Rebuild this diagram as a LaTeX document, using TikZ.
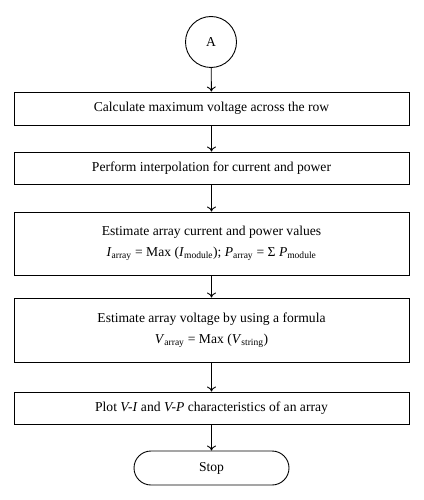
\documentclass[tikz,border=0pt]{standalone}
\usepackage{amsmath}
\usepackage{fontspec}
\setmainfont{Liberation Serif}
\usetikzlibrary{arrows.meta,shapes.misc}
\tikzset{
  txt/.style={font=\fontsize{13.6}{16}\selectfont},
  box/.style={draw, line width=0.9pt, minimum width=395pt, inner sep=0pt, align=center, txt},
  conn/.style={draw, line width=0.9pt, -{To[length=5pt,width=9pt]}},
}
\newcommand{\vsub}[2]{\textit{#1}\ensuremath{_{\text{#2}}}}
\begin{document}
\begin{tikzpicture}[x=1pt,y=-1pt]
\useasboundingbox (0,0) rectangle (423,500);
\node[draw, circle, line width=0.9pt, minimum size=51pt, inner sep=0pt, txt] (a) at (211,42) {A};
\node[box, minimum height=33pt] (b1) at (211.5,108.5) {Calculate maximum voltage across the row};
\node[box, minimum height=32pt] (b2) at (211.5,168) {Perform interpolation for current and power};
\node[box, minimum height=63pt] (b3) at (211.5,243.5) {Estimate array current and power values\\[5pt]
\vsub{I}{array} = Max (\vsub{I}{module}); \vsub{P}{array} = Σ \vsub{P}{module}};
\node[box, minimum height=64pt] (b4) at (211.5,330) {Estimate array voltage by using a formula\\[5pt]
\vsub{V}{array} = Max (\vsub{V}{string})};
\node[box, minimum height=32pt] (b5) at (211.5,408) {Plot \textit{V-I} and \textit{V-P} characteristics of an array};
\node[draw, rounded rectangle, line width=0.9pt, minimum width=155pt, minimum height=34pt, inner sep=0pt, txt] (s) at (211.5,468) {Stop};
\draw[conn] (a) -- (b1);
\draw[conn] (b1) -- (b2);
\draw[conn] (b2) -- (b3);
\draw[conn] (b3) -- (b4);
\draw[conn] (b4) -- (b5);
\draw[conn] (b5) -- (s);
\end{tikzpicture}
\end{document}
